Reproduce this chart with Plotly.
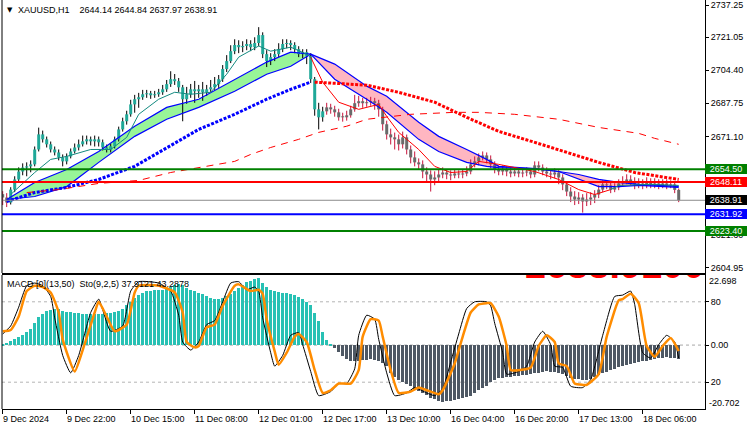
import plotly.graph_objects as go

# ---------------- data ----------------
title_text = "XAUUSD,H1\u00a0\u00a0\u00a0\u00a02644.14 2644.84 2637.97 2638.91"
macd_title = "MACD [0](13,50)\u00a0\u00a0Sto(9,2,5) 37.9121 43.2878"
big_price_text = "2638.9100"

first_open = 2642.0
closes = [2640.3, 2637.8, 2644.3, 2649.4, 2653.4, 2655.4, 2656.0, 2657.0, 2664.5, 2672.1,
          2669.6, 2667.1, 2664.5, 2663.0, 2660.5, 2658.5, 2661.0, 2663.5, 2665.5, 2667.1,
          2668.6, 2669.6, 2668.6, 2669.6, 2668.1, 2665.5, 2664.5, 2666.1, 2669.6, 2674.6,
          2678.7, 2682.2, 2687.2, 2689.8, 2690.8, 2692.3, 2692.8, 2691.8, 2692.3, 2693.3,
          2694.8, 2697.4, 2699.9, 2698.9, 2695.8, 2689.8, 2692.3, 2694.8, 2693.8, 2694.8,
          2693.3, 2694.8, 2695.8, 2697.4, 2699.9, 2705.0, 2709.0, 2714.0, 2717.1, 2716.0,
          2716.6, 2717.6, 2716.0, 2718.1, 2722.1, 2712.5, 2709.0, 2711.0, 2712.5, 2715.0,
          2717.6, 2718.1, 2717.1, 2715.0, 2712.5, 2713.5, 2711.5, 2699.9, 2684.7, 2680.7,
          2683.7, 2685.7, 2684.7, 2683.2, 2680.7, 2680.7, 2681.7, 2684.7, 2687.8, 2688.8,
          2687.8, 2688.3, 2688.8, 2687.8, 2684.7, 2677.2, 2672.1, 2670.6, 2669.6, 2667.1,
          2670.6, 2664.5, 2660.5, 2658.0, 2657.0, 2653.4, 2651.9, 2649.4, 2650.4, 2651.9,
          2652.9, 2651.9, 2651.4, 2652.4, 2651.9, 2652.4, 2653.4, 2657.0, 2658.5, 2660.5,
          2661.5, 2659.5, 2657.0, 2654.4, 2653.4, 2654.4, 2653.4, 2652.4, 2653.4, 2652.4,
          2652.9, 2653.4, 2651.9, 2656.5, 2655.4, 2653.4, 2652.4, 2651.9, 2652.9, 2650.4,
          2646.9, 2643.3, 2640.8, 2639.3, 2640.3, 2638.3, 2639.3, 2640.3, 2641.8, 2644.3,
          2646.9, 2646.4, 2644.3, 2645.4, 2647.4, 2648.4, 2649.4, 2648.4, 2646.9, 2647.4,
          2646.4, 2647.9, 2646.9, 2647.4, 2646.4, 2647.4, 2646.4, 2646.9, 2644.14, 2638.91]
highs = [2643.5, 2642.5, 2645.5, 2651.0, 2655.5, 2657.5, 2658.0, 2659.0, 2666.0, 2675.5,
         2674.0, 2671.0, 2668.5, 2666.0, 2664.5, 2662.0, 2662.5, 2665.0, 2667.5, 2669.5,
         2671.5, 2671.5, 2671.0, 2671.5, 2671.0, 2669.5, 2667.0, 2667.5, 2671.0, 2676.0,
         2680.5, 2684.0, 2689.5, 2692.0, 2693.0, 2694.5, 2694.5, 2694.0, 2694.0, 2695.0,
         2697.0, 2699.5, 2703.9, 2702.5, 2700.5, 2697.0, 2696.0, 2697.5, 2699.0, 2697.0,
         2698.5, 2697.0, 2699.5, 2701.0, 2702.0, 2707.0, 2712.0, 2717.0, 2720.0, 2719.5,
         2719.0, 2720.0, 2719.5, 2721.0, 2726.1, 2723.5, 2714.5, 2713.0, 2715.0, 2718.0,
         2720.0, 2720.0, 2719.5, 2718.5, 2716.5, 2715.0, 2715.0, 2713.0, 2701.0, 2688.0,
         2686.0, 2688.0, 2687.5, 2686.5, 2685.0, 2683.0, 2684.0, 2686.5, 2692.0, 2691.5,
         2690.5, 2690.5, 2691.0, 2690.5, 2689.5, 2686.0, 2679.0, 2675.0, 2673.0, 2672.0,
         2673.5, 2672.0, 2666.5, 2663.5, 2660.0, 2659.0, 2655.5, 2654.0, 2653.5, 2654.5,
         2655.5, 2654.5, 2654.0, 2654.5, 2654.0, 2654.5, 2656.0, 2659.5, 2661.0, 2662.5,
         2663.5, 2663.0, 2661.5, 2658.5, 2656.5, 2656.5, 2656.0, 2655.5, 2655.5, 2655.0,
         2655.0, 2655.5, 2655.0, 2658.5, 2658.5, 2657.0, 2655.5, 2654.5, 2655.0, 2654.5,
         2652.0, 2648.5, 2645.5, 2643.5, 2643.0, 2642.0, 2642.5, 2643.0, 2644.0, 2646.5,
         2649.0, 2648.5, 2648.0, 2647.5, 2649.5, 2651.0, 2652.0, 2651.5, 2650.5, 2650.0,
         2649.5, 2650.5, 2650.0, 2650.0, 2649.5, 2649.5, 2649.5, 2649.0, 2648.0, 2644.84]
lows = [2636.5, 2635.5, 2636.8, 2643.0, 2648.0, 2651.5, 2651.0, 2653.0, 2656.0, 2663.5,
        2668.0, 2665.5, 2663.0, 2661.5, 2659.0, 2656.0, 2657.0, 2660.0, 2662.5, 2664.0,
        2666.0, 2667.0, 2666.5, 2666.0, 2666.0, 2664.0, 2663.0, 2663.0, 2665.0, 2668.5,
        2673.5, 2677.0, 2681.0, 2683.0, 2685.5, 2689.5, 2690.5, 2690.0, 2690.5, 2691.0,
        2692.0, 2693.5, 2696.0, 2697.0, 2693.5, 2678.7, 2687.5, 2690.5, 2688.0, 2690.5,
        2689.0, 2691.5, 2693.5, 2694.5, 2695.5, 2698.5, 2703.5, 2708.0, 2712.5, 2713.0,
        2713.5, 2714.5, 2714.0, 2714.5, 2716.5, 2710.5, 2706.0, 2707.0, 2709.0, 2711.0,
        2713.5, 2715.5, 2714.5, 2713.0, 2711.0, 2710.5, 2707.5, 2698.0, 2681.5, 2674.6,
        2678.5, 2682.0, 2682.5, 2681.0, 2679.0, 2678.5, 2679.0, 2680.5, 2683.5, 2686.0,
        2685.5, 2686.0, 2686.5, 2684.5, 2681.0, 2674.0, 2669.5, 2667.0, 2664.5, 2664.0,
        2665.0, 2662.0, 2657.5, 2656.0, 2654.5, 2650.0, 2648.0, 2643.3, 2646.5, 2648.0,
        2650.0, 2649.5, 2649.0, 2650.0, 2650.0, 2650.0, 2651.0, 2652.0, 2655.5, 2656.5,
        2659.0, 2657.5, 2655.0, 2652.5, 2651.5, 2651.5, 2651.0, 2650.5, 2651.0, 2650.5,
        2650.5, 2651.0, 2650.0, 2650.5, 2653.5, 2651.5, 2650.5, 2649.5, 2650.0, 2647.0,
        2644.0, 2641.0, 2638.0, 2636.5, 2637.0, 2632.7, 2636.0, 2636.5, 2637.5, 2640.0,
        2643.0, 2644.5, 2642.5, 2643.0, 2644.0, 2646.0, 2647.0, 2646.5, 2644.5, 2645.0,
        2644.5, 2645.0, 2645.0, 2645.0, 2644.5, 2645.0, 2644.5, 2645.0, 2642.5, 2637.97]
uptrend_first_bar, uptrend_last_bar = 2, 80   # bars drawn in the up-trend colour

time_labels = ["9 Dec 2024", "9 Dec 22:00", "10 Dec 15:00", "11 Dec 08:00", "12 Dec 01:00",
               "12 Dec 17:00", "13 Dec 10:00", "16 Dec 04:00", "16 Dec 20:00",
               "17 Dec 13:00", "18 Dec 06:00"]
time_label_bars = [0, 16, 32, 48, 64, 80, 96, 112, 128, 144, 160]

price_ticks = [2737.25, 2721.05, 2704.40, 2687.75, 2671.10, 2654.45, 2621.60, 2604.95]

levels = [2654.50, 2648.11, 2638.91, 2631.92, 2623.40]
level_line_colors = ["#008000", "#FF0000", "#8C8C8C", "#0000FF", "#008000"]
level_box_colors = ["#008000", "#FF0000", "#000000", "#0000FF", "#008000"]
level_widths = [2, 2, 1, 2, 2]

# band of two averages (fast / slow)
band_up_bars = [1, 8, 16, 24, 33, 41, 49, 58, 66, 72, 77]
band_up_fast = [2639.3, 2647.9, 2654.4, 2663.5, 2676.2, 2685.7, 2689.8, 2699.9, 2708.5, 2713.5, 2712.5]
band_up_slow = [2639.3, 2640.8, 2645.8, 2658.0, 2671.1, 2679.7, 2685.7, 2693.8, 2702.4, 2706.4, 2712.5]
band_dn_bars = [77, 83, 91, 96, 104, 109, 116, 121, 124, 133, 139, 144, 149, 154, 159, 169]
band_dn_fast = [2712.5, 2699.9, 2689.8, 2683.2, 2669.6, 2663.5, 2658.0, 2656.0, 2655.4, 2654.9,
                2653.4, 2649.4, 2645.8, 2645.8, 2646.4, 2645.4]
band_dn_slow = [2712.5, 2707.5, 2696.4, 2691.3, 2678.2, 2671.1, 2664.5, 2659.5, 2656.0, 2654.9,
                2653.4, 2651.9, 2649.4, 2647.9, 2646.9, 2645.9]

# thin fast average
thin_up_bars = [2, 8, 12, 16, 22, 27, 31, 34, 39, 43, 47, 52, 56, 59, 64, 67, 72, 76, 77]
thin_up_vals = [2641.8, 2652.9, 2659.5, 2661.0, 2664.5, 2664.5, 2670.6, 2682.2, 2689.8, 2693.3,
                2692.3, 2693.3, 2702.4, 2711.0, 2716.6, 2714.0, 2716.0, 2712.5, 2711.0]
thin_dn_bars = [77, 80, 84, 89, 94, 96, 99, 104, 108, 112, 116, 119, 124, 133, 139, 144, 148, 152]
thin_dn_vals = [2711.0, 2698.4, 2688.3, 2684.7, 2687.2, 2681.2, 2673.1, 2664.5, 2656.0, 2652.9,
                2653.4, 2658.5, 2657.0, 2653.4, 2649.4, 2644.3, 2641.8, 2644.3]
thin_end_bars = [152, 154, 162, 169]
thin_end_vals = [2644.3, 2646.4, 2646.9, 2646.4]

# dotted average
dots_up_bars = [1, 8, 16, 24, 33, 41, 49, 58, 66, 72, 77]
dots_up_vals = [2638.3, 2642.8, 2645.4, 2649.4, 2656.0, 2665.5, 2674.6, 2682.2, 2689.8, 2694.8, 2698.4]
dots_dn_bars = [78, 91, 99, 108, 116, 124, 133, 141, 149, 158, 169]
dots_dn_vals = [2698.4, 2696.9, 2693.3, 2688.3, 2680.7, 2673.6, 2668.1, 2663.0, 2658.0, 2652.9, 2649.4]

# long dashed average
dash_bars = [6, 14, 24, 34, 42, 51, 58, 62, 67, 74, 79, 86, 91, 102, 113, 119, 128, 139, 149, 159, 163, 169]
dash_vals = [2642.8, 2644.3, 2647.4, 2648.9, 2652.9, 2656.0, 2658.5, 2662.0, 2665.5, 2669.6, 2673.1,
             2676.2, 2679.7, 2682.2, 2683.2, 2683.2, 2682.2, 2679.7, 2675.6, 2672.6, 2670.1, 2667.1]

# MACD histogram
macd_hist = [0.3, 0.8, 1.4, 2.0, 2.7, 3.4, 4.3, 5.3, 7.0, 9.0,
             10.0, 10.9, 11.5, 11.7, 11.6, 11.2, 10.8, 10.6, 10.4, 10.3,
             10.2, 10.1, 10.0, 10.0, 10.0, 10.1, 10.3, 10.5, 10.8, 11.0,
             11.8, 12.9, 14.0, 15.3, 16.3, 16.9, 17.4, 17.6, 17.8, 17.9,
             18.0, 18.2, 18.8, 19.4, 19.8, 19.3, 18.6, 18.0, 17.5, 17.0,
             16.5, 16.0, 15.4, 15.0, 14.8, 15.3, 16.0, 16.7, 17.6, 18.6,
             19.5, 20.3, 20.8, 21.3, 21.6, 20.0, 18.8, 18.0, 17.5, 17.2,
             17.0, 16.8, 16.6, 16.3, 15.6, 14.9, 14.0, 12.9, 10.5, 7.8,
             4.3, 1.8, 0.3, -0.8, -2.2, -3.5, -4.5, -5.0, -5.2, -5.1,
             -4.9, -4.7, -4.6, -4.7, -5.0, -5.8, -6.9, -9.0, -10.4, -11.2,
             -11.8, -12.6, -13.4, -14.2, -14.8, -15.5, -16.3, -17.0, -17.5, -18.0,
             -18.3, -18.2, -18.0, -17.8, -17.5, -17.2, -16.9, -16.5, -15.6, -14.7,
             -14.0, -13.4, -11.8, -11.4, -10.8, -10.5, -10.3, -10.2, -10.0, -9.9,
             -9.8, -9.7, -9.5, -9.2, -8.9, -8.6, -8.5, -8.6, -8.8, -9.0,
             -9.5, -10.1, -10.6, -10.9, -11.1, -11.2, -11.2, -10.9, -10.4, -9.8,
             -9.2, -8.6, -8.1, -7.7, -7.2, -6.8, -6.5, -6.2, -5.9, -5.6,
             -5.3, -5.1, -4.8, -4.5, -4.3, -4.1, -4.0, -4.1, -4.3, -4.5]
macd_axis_min, macd_axis_max = -20.702, 22.698

# stochastic
sto_sig_bars = [0, 2, 4, 6, 8, 10, 12, 14, 15, 18, 20, 23, 24, 26, 28, 31, 33, 34, 39, 43,
                45, 46, 48, 49, 51, 53, 55, 58, 59, 62, 64, 65, 66, 68, 69, 71, 73, 74, 76, 78,
                80, 82, 84, 87, 89, 90, 92, 94, 95, 97, 99, 102, 104, 106, 109, 110, 113, 115, 117, 119,
                121, 122, 124, 126, 127, 129, 132, 134, 136, 138, 139, 141, 143, 145, 146, 149, 151, 154, 155, 157,
                159, 161, 163, 165, 167, 169]
sto_sig_vals = [58, 59, 69, 88, 92, 91, 87, 72, 52, 28, 44, 72, 80, 69, 58, 63, 87, 92, 92, 87,
                72, 50, 46, 47, 61, 63, 77, 92, 93, 88, 89, 86, 67, 43, 33, 42, 54, 56, 50, 29,
                12, 14, 19, 19, 29, 54, 67, 66, 54, 29, 12, 13, 16, 14, 11, 14, 34, 54, 72, 78,
                79, 79, 69, 47, 29, 29, 31, 47, 55, 50, 34, 32, 19, 18, 18, 26, 54, 81, 82, 86,
                79, 47, 39, 47, 53, 43.2878]
sto_main_bars = [0, 2, 4, 6, 8, 10, 12, 13, 15, 17, 19, 22, 24, 25, 27, 30, 32, 34, 39, 42,
                 44, 45, 47, 49, 51, 53, 55, 57, 59, 61, 63, 64, 65, 67, 68, 70, 72, 74, 75, 77,
                 79, 82, 84, 86, 88, 89, 91, 93, 94, 96, 98, 101, 103, 106, 108, 110, 112, 114, 116, 118,
                 121, 122, 123, 125, 126, 129, 131, 133, 135, 137, 138, 140, 142, 145, 147, 150, 153, 155, 157, 158,
                 160, 162, 164, 166, 168, 169]
sto_main_vals = [56, 62, 76, 92, 94, 92, 84, 68, 40, 27, 40, 72, 82, 74, 58, 62, 88, 95, 94, 88,
                 70, 50, 44, 50, 63, 66, 80, 94, 95, 89, 91, 88, 68, 42, 32, 40, 55, 57, 48, 28,
                 10, 13, 19, 19, 30, 55, 70, 67, 52, 27, 10, 12, 16, 12, 10, 15, 35, 56, 75, 80,
                 80, 77, 64, 42, 26, 28, 32, 50, 58, 48, 32, 31, 17, 16, 22, 55, 84, 85, 88, 78,
                 42, 38, 48, 55, 50, 37.9121]
sto_levels = [80, 20]

# ---------------- layout geometry ----------------
W, H = 750, 430
ML, MR, MT, MB = 2, 45, 0, 21
PH = H - MT - MB
MAIN_DOM = [(PH - 273) / PH, 1.0]
SUB_DOM = [0.0, (PH - 275) / PH]
X_RANGE = [-0.175, 175.575]
Y_MAIN = [2602.29, 2739.77]

FONT = "Liberation Sans, Arial, sans-serif"
TEAL = "#1FA898"
GRAY = "#6A6A6A"
HIST_POS = "#28C1B4"
HIST_NEG = "#4E5864"

fig = go.Figure()

n = len(closes)
opens = [first_open] + closes[:-1]


def seg_trace(idx, lo, hi, color, width):
    xs, ys = [], []
    for i in idx:
        xs += [i, i, None]
        ys += [lo[i], hi[i], None]
    return go.Scatter(x=xs, y=ys, mode="lines", line=dict(color=color, width=width),
                      hoverinfo="skip", showlegend=False, xaxis="x", yaxis="y")


# band fills
fig.add_trace(go.Scatter(x=band_up_bars, y=band_up_slow, mode="lines", line=dict(width=0),
                         showlegend=False, hoverinfo="skip"))
fig.add_trace(go.Scatter(x=band_up_bars, y=band_up_fast, mode="lines", line=dict(width=0),
                         fill="tonexty", fillcolor="#98F598", showlegend=False, hoverinfo="skip"))
fig.add_trace(go.Scatter(x=band_dn_bars, y=band_dn_slow, mode="lines", line=dict(width=0),
                         showlegend=False, hoverinfo="skip"))
fig.add_trace(go.Scatter(x=band_dn_bars, y=band_dn_fast, mode="lines", line=dict(width=0),
                         fill="tonexty", fillcolor="#FFB6C1", showlegend=False, hoverinfo="skip"))

# candles
up_idx = [i for i in range(n) if uptrend_first_bar <= i <= uptrend_last_bar]
dn_idx = [i for i in range(n) if not (uptrend_first_bar <= i <= uptrend_last_bar)]
body_lo = [min(o, c) for o, c in zip(opens, closes)]
body_hi = [max(max(o, c), min(o, c) + 0.5) for o, c in zip(opens, closes)]
fig.add_trace(seg_trace(up_idx, lows, highs, "#000000", 1))
fig.add_trace(seg_trace(dn_idx, lows, highs, "#C8143C", 1))
fig.add_trace(seg_trace(up_idx, body_lo, body_hi, TEAL, 3))
fig.add_trace(seg_trace(dn_idx, body_lo, body_hi, GRAY, 3))

# band edge lines
for bx, by in [(band_up_bars, band_up_fast), (band_up_bars, band_up_slow),
               (band_dn_bars, band_dn_fast), (band_dn_bars, band_dn_slow)]:
    fig.add_trace(go.Scatter(x=bx, y=by, mode="lines", line=dict(color="#0000FF", width=1.2),
                             showlegend=False, hoverinfo="skip"))

# thin average
fig.add_trace(go.Scatter(x=thin_up_bars, y=thin_up_vals, mode="lines",
                         line=dict(color="#138A80", width=1), showlegend=False, hoverinfo="skip"))
fig.add_trace(go.Scatter(x=thin_dn_bars, y=thin_dn_vals, mode="lines",
                         line=dict(color="#FF0000", width=1), showlegend=False, hoverinfo="skip"))
fig.add_trace(go.Scatter(x=thin_end_bars, y=thin_end_vals, mode="lines",
                         line=dict(color="#138A80", width=1), showlegend=False, hoverinfo="skip"))

# dotted average
fig.add_trace(go.Scatter(x=dots_up_bars, y=dots_up_vals, mode="lines",
                         line=dict(color="#0000FF", width=3, dash="3px,1.5px"),
                         showlegend=False, hoverinfo="skip"))
fig.add_trace(go.Scatter(x=dots_dn_bars, y=dots_dn_vals, mode="lines",
                         line=dict(color="#FF0000", width=3, dash="3px,1.5px"),
                         showlegend=False, hoverinfo="skip"))

# long dashed average
fig.add_trace(go.Scatter(x=dash_bars, y=dash_vals, mode="lines",
                         line=dict(color="#FF0000", width=1, dash="7px,6px"),
                         showlegend=False, hoverinfo="skip"))

# MACD histogram
fig.add_trace(go.Bar(x=list(range(n)), y=macd_hist, width=0.75,
                     marker=dict(color=[HIST_POS if v >= 0 else HIST_NEG for v in macd_hist],
                                 line=dict(width=0)),
                     xaxis="x2", yaxis="y2", showlegend=False, hoverinfo="skip"))

# big red price text, clipped by the sub-window top
fig.add_trace(go.Scatter(x=[153.0], y=[24.95], mode="text", text=[big_price_text],
                         textposition="middle center",
                         textfont=dict(family=FONT, size=38, color="#FF0000", weight="bold"),
                         cliponaxis=True, xaxis="x2", yaxis="y2", showlegend=False, hoverinfo="skip"))

# stochastic
fig.add_trace(go.Scatter(x=sto_main_bars, y=sto_main_vals, mode="lines",
                         line=dict(color="#000000", width=1, shape="spline", smoothing=0.5),
                         xaxis="x2", yaxis="y3", showlegend=False, hoverinfo="skip"))
fig.add_trace(go.Scatter(x=sto_sig_bars, y=sto_sig_vals, mode="lines",
                         line=dict(color="#FF8C00", width=2.5, shape="spline", smoothing=0.5),
                         xaxis="x2", yaxis="y3", showlegend=False, hoverinfo="skip"))

shapes = []
# horizontal level lines
for p, col, w in zip(levels, level_line_colors, level_widths):
    shapes.append(dict(type="line", xref="paper", x0=0, x1=1, yref="y", y0=p, y1=p,
                       line=dict(color=col, width=w), layer="above"))
# sub window dashed levels
shapes.append(dict(type="line", xref="paper", x0=0, x1=1, yref="y2", y0=0, y1=0,
                   line=dict(color="#A8A8A8", width=1, dash="3px,3px"), layer="below"))
for lv in sto_levels:
    shapes.append(dict(type="line", xref="paper", x0=0, x1=1, yref="y3", y0=lv, y1=lv,
                       line=dict(color="#B4B4B4", width=1, dash="3px,3px"), layer="below"))
# left borders
shapes.append(dict(type="line", xref="paper", x0=0, x1=0, yref="paper", y0=MAIN_DOM[0], y1=1,
                   line=dict(color="#000000", width=1)))
shapes.append(dict(type="line", xref="paper", x0=0, x1=0, yref="paper", y0=0, y1=SUB_DOM[1],
                   line=dict(color="#000000", width=1)))

ann = []
ann.append(dict(text="▼", xref="paper", yref="paper", x=(10 - ML) / (W - ML - MR), y=1 - 10 / PH,
                xanchor="center", yanchor="middle", showarrow=False,
                font=dict(family="DejaVu Sans", size=7, color="#000000")))
ann.append(dict(text=title_text, xref="paper", yref="paper", x=(18 - ML) / (W - ML - MR),
                y=1 - 10 / PH, xanchor="left", yanchor="middle", showarrow=False, xshift=-2,
                font=dict(family=FONT, size=9, color="#000000")))
ann.append(dict(text=macd_title, xref="paper", yref="paper", x=(7 - ML) / (W - ML - MR),
                y=(PH - 284) / PH, xanchor="left", yanchor="middle", showarrow=False, xshift=-2,
                font=dict(family=FONT, size=9, color="#000000")))
for lab, b in zip(time_labels, time_label_bars):
    ann.append(dict(text=lab, xref="x2", yref="paper", x=b, y=0, xanchor="left", yanchor="top",
                    yshift=-3, xshift=-2, showarrow=False,
                    font=dict(family=FONT, size=9, color="#000000")))
for p, col in zip(levels, level_box_colors):
    ann.append(dict(text=f"{p:.2f}", xref="paper", yref="y", x=1, y=p, xanchor="left",
                    yanchor="middle", showarrow=False, width=42, height=10, bgcolor=col,
                    borderpad=0, borderwidth=0, align="center",
                    font=dict(family=FONT, size=9, color="#FFFFFF")))
ann.append(dict(text=f"{macd_axis_max:.3f}", xref="paper", yref="paper", x=1, y=(PH - 281) / PH,
                xanchor="left", yanchor="middle", xshift=2, showarrow=False,
                font=dict(family=FONT, size=9, color="#000000")))
ann.append(dict(text=f"{macd_axis_min:.3f}", xref="paper", yref="paper", x=1, y=(PH - 403) / PH,
                xanchor="left", yanchor="middle", xshift=2, showarrow=False,
                font=dict(family=FONT, size=9, color="#000000")))

axis_common = dict(showgrid=False, zeroline=False, linecolor="#000000", linewidth=1,
                   tickcolor="#000000", tickfont=dict(family=FONT, size=9, color="#000000"))
axis_nofont = {k: v for k, v in axis_common.items() if k != "tickfont"}

fig.update_layout(
    width=W, height=H,
    margin=dict(l=ML, r=MR, t=MT, b=MB),
    paper_bgcolor="#FFFFFF", plot_bgcolor="#FFFFFF",
    showlegend=False, bargap=0, hovermode=False,
    shapes=shapes, annotations=ann,
    xaxis=dict(domain=[0, 1], anchor="y", range=X_RANGE, showticklabels=False, ticks="",
               showline=True, **axis_nofont),
    xaxis2=dict(domain=[0, 1], anchor="y2", range=X_RANGE, tickvals=time_label_bars,
                ticks="outside", ticklen=4, showticklabels=False, showline=True, mirror=True,
                **axis_nofont),
    yaxis=dict(domain=MAIN_DOM, anchor="x", side="right", range=Y_MAIN,
               tickvals=price_ticks, ticktext=[f"{p:.2f}" for p in price_ticks],
               ticks="outside", ticklen=3, showline=True, **axis_common),
    yaxis2=dict(domain=SUB_DOM, anchor="x2", side="right", range=[macd_axis_min, macd_axis_max],
                tickvals=[0], ticktext=["0.00"], ticks="outside", ticklen=3, showline=True,
                **axis_common),
    yaxis3=dict(overlaying="y2", anchor="x2", side="right", range=[0, 100],
                tickvals=sto_levels, ticktext=[str(v) for v in sto_levels], ticks="outside",
                ticklen=3, showline=False, **axis_common),
)

fig.write_html("out.html")
